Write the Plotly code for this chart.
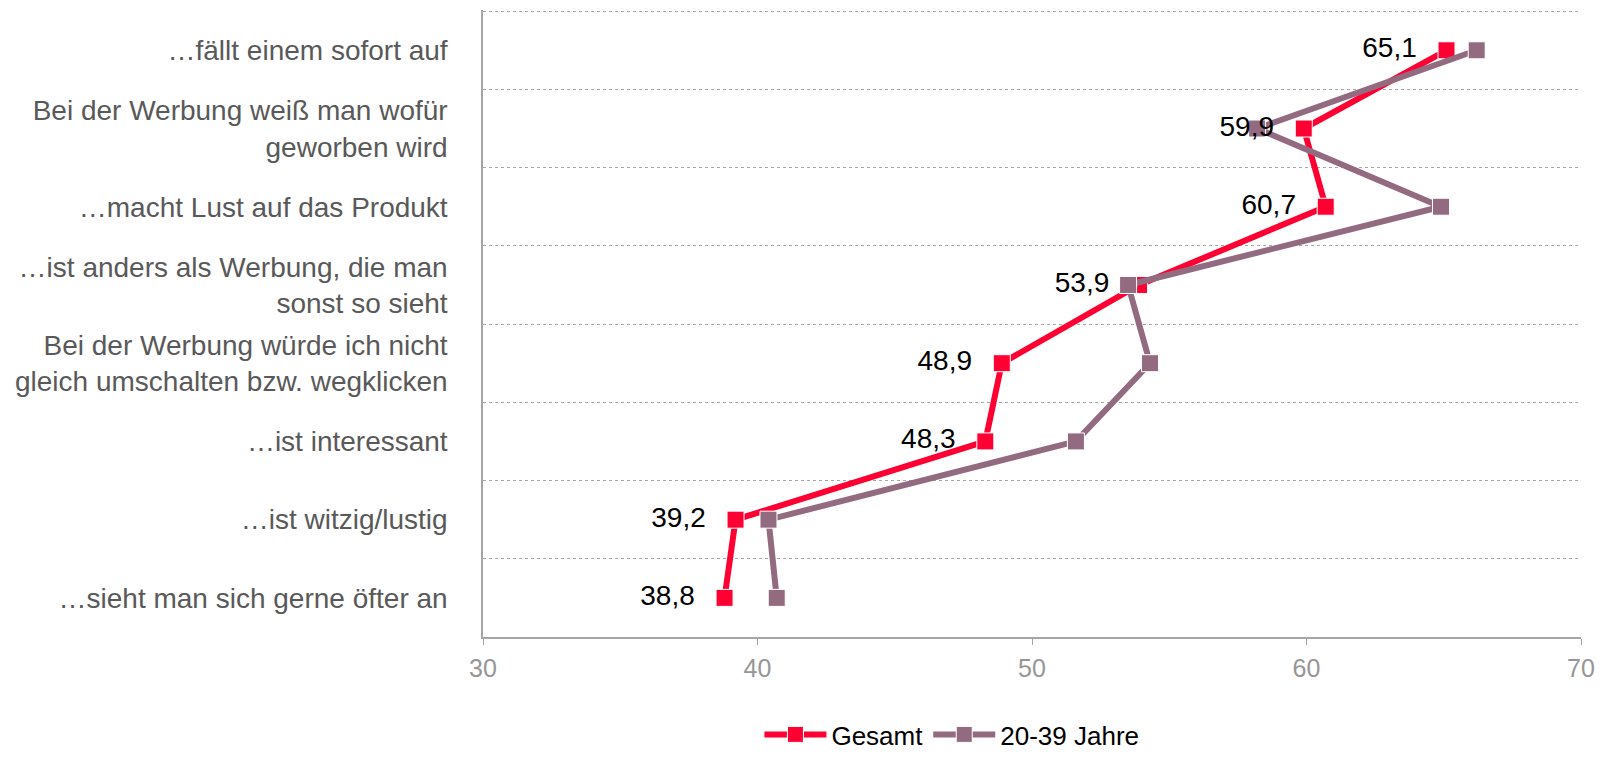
import plotly.graph_objects as go

categories = [
    "…fällt einem sofort auf",
    "Bei der Werbung weiß man wofür<br>geworben wird",
    "…macht Lust auf das Produkt",
    "…ist anders als Werbung, die man<br>sonst so sieht",
    "Bei der Werbung würde ich nicht<br>gleich umschalten bzw. wegklicken",
    "…ist interessant",
    "…ist witzig/lustig",
    "…sieht man sich gerne öfter an",
]
gesamt = [65.1, 59.9, 60.7, 53.9, 48.9, 48.3, 39.2, 38.8]
jahre_20_39 = [66.2, 58.2, 64.9, 53.5, 54.3, 51.6, 40.4, 40.7]
x_ticks = [30, 40, 50, 60, 70]

RED = "#FF0033"
PURPLE = "#936B80"
FONT = "Liberation Sans, Arial, sans-serif"

n = len(categories)
ypos = list(range(n))
labels = [f"{v:.1f}".replace(".", ",") for v in gesamt]

fig = go.Figure()
fig.add_trace(go.Scatter(
    x=gesamt, y=ypos, name="Gesamt", mode="lines+markers",
    line=dict(color=RED, width=6),
    marker=dict(symbol="square", size=17, color=RED, line=dict(color="white", width=1)),
))
fig.add_trace(go.Scatter(
    x=jahre_20_39, y=ypos, name="20-39 Jahre", mode="lines+markers",
    line=dict(color=PURPLE, width=6),
    marker=dict(symbol="square", size=17, color=PURPLE, line=dict(color="white", width=1)),
))
# data labels for Gesamt, drawn on top
fig.add_trace(go.Scatter(
    x=gesamt, y=ypos, mode="markers+text", showlegend=False, hoverinfo="skip",
    marker=dict(size=46, opacity=0),
    text=labels,
    textposition="middle left",
    textfont=dict(family=FONT, size=28, color="#000000"),
))

fig.update_layout(
    width=1608, height=758,
    margin=dict(l=483, r=27, t=10, b=121, autoexpand=False),
    paper_bgcolor="white", plot_bgcolor="white",
    font=dict(family=FONT, size=28, color="#595959"),
    legend=dict(
        orientation="h", xref="container", yref="container",
        x=0.592, xanchor="center", y=0.0, yanchor="bottom",
        font=dict(family=FONT, size=26, color="#000000"),
        itemwidth=62, tracegroupgap=0,
    ),
    xaxis=dict(
        range=[30, 70], tickvals=x_ticks, showgrid=False, zeroline=False,
        showline=True, linecolor="#A6A6A6", linewidth=1.5,
        ticks="outside", ticklen=6, tickcolor="#A6A6A6",
        tickfont=dict(family=FONT, size=25, color="#969696"),
        ticklabelstandoff=2,
    ),
    yaxis=dict(
        range=[n - 0.5, -0.515], tickvals=ypos, ticktext=categories,
        showgrid=False, zeroline=False,
        showline=True, linecolor="#A6A6A6", linewidth=1.5,
        ticks="", ticklabelstandoff=28,
        tickfont=dict(family=FONT, size=28, color="#595959"),
        minor=dict(tickmode="array", tickvals=[i - 0.5 for i in range(n)],
                   showgrid=True, gridcolor="#A6A6A6", griddash="dot", gridwidth=1,
                   ticks=""),
    ),
)

fig.write_html(
    "out.html",
    config={"displayModeBar": False},
    post_script="document.body.style.margin='0';document.body.style.overflow='hidden';",
)
